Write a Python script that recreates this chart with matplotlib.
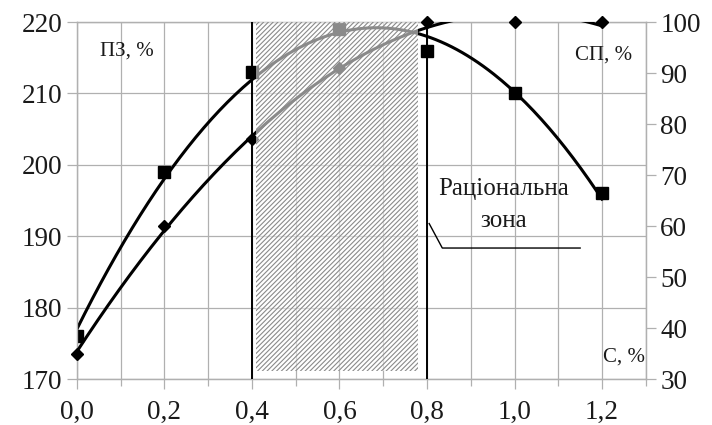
import matplotlib
matplotlib.use('Agg')
import matplotlib.pyplot as plt
import numpy as np
from matplotlib.ticker import MultipleLocator, FuncFormatter

plt.rcParams['font.family'] = ['Liberation Serif', 'DejaVu Serif']
plt.rcParams['hatch.linewidth'] = 0.8

# дані
c_vals = [0.0, 0.2, 0.4, 0.6, 0.8, 1.0, 1.2]
pz_vals = [176, 199, 213, 219, 216, 210, 196]      # ПЗ, % (ліва вісь)
sp_vals = [35, 60, 77, 91, 100, 100, 100]           # СП, % (права вісь)
zone = [0.41, 0.78]
zone_lines = [0.4, 0.8]

fig = plt.figure(figsize=(7.12, 4.25), dpi=100)
ax = fig.add_axes([0.108, 0.108, 0.799, 0.84])
ax2 = ax.twinx()

grid_c = '#b0b0b0'
ax.set_xlim(0, 1.3)
ax.set_ylim(170, 220)
ax2.set_ylim(30, 100)
ax.xaxis.set_major_locator(MultipleLocator(0.2))
ax.xaxis.set_minor_locator(MultipleLocator(0.1))
ax.yaxis.set_major_locator(MultipleLocator(10))
ax2.yaxis.set_major_locator(MultipleLocator(10))
ax.grid(True, which='both', axis='x', color=grid_c, lw=0.9)
ax.grid(True, which='major', axis='y', color=grid_c, lw=0.9)
ax.set_axisbelow(True)

ax.xaxis.set_major_formatter(FuncFormatter(lambda v, p: ('%.1f' % v).replace('.', ',')))
for a in (ax, ax2):
    for s in a.spines.values():
        s.set_color(grid_c)
        s.set_linewidth(0.9)
    a.tick_params(which='both', colors=grid_c, labelcolor='#1a1a1a',
                  labelsize=19.5, length=7, width=0.9)
ax.tick_params(axis='x', which='major', pad=8)
ax.tick_params(axis='x', which='minor', length=5)

# лінії тренду (поліном 2-го ступеня)
xs = np.linspace(0, 1.2, 200)
p1 = np.polyfit(c_vals, pz_vals, 2)
p2 = np.polyfit(c_vals, sp_vals, 2)
ax.plot(xs, np.polyval(p1, xs), color='black', lw=2.2, zorder=3)
ax.plot(c_vals, pz_vals, 's', color='black', ms=9, zorder=4)
ax2.plot(xs, np.polyval(p2, xs), color='black', lw=2.2, zorder=3)
ax2.plot(c_vals, sp_vals, 'D', color='black', ms=6.5, zorder=4, clip_on=False)

# раціональна зона
ax2.fill_between(zone, 31.5, 100, color='white', alpha=0.55, lw=0, zorder=5)
ax2.fill_between(zone, 31.5, 100, facecolor='none', edgecolor='#8a8a8a',
                 hatch='///////', lw=0, zorder=6)
for z in zone_lines:
    ax2.axvline(z, color='black', lw=1.4, zorder=7)

ax2.text(0.975, 67.2, 'Раціональна', fontsize=18, ha='center', va='center',
         color='#1a1a1a', zorder=8)
ax2.text(0.975, 61.0, 'зона', fontsize=18, ha='center', va='center',
         color='#1a1a1a', zorder=8)
ax2.plot([0.805, 0.835, 1.15], [60.5, 55.7, 55.7], color='black', lw=1.0, zorder=8)

ax.text(0.04, 0.905, 'ПЗ, %', transform=ax.transAxes, fontsize=15, color='#1a1a1a')
ax.text(0.875, 0.895, 'СП, %', transform=ax.transAxes, fontsize=15, color='#1a1a1a')
ax.text(0.925, 0.05, 'С, %', transform=ax.transAxes, fontsize=15, color='#1a1a1a')

fig.savefig('out.png', dpi=100)
